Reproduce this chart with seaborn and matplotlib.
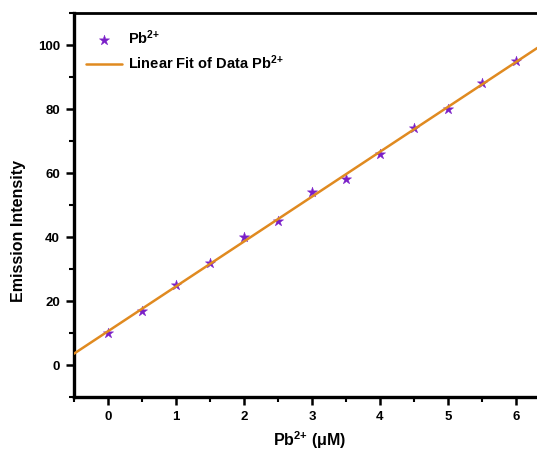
import numpy as np
import pandas as pd
import matplotlib
matplotlib.use("Agg")
import matplotlib.pyplot as plt
from matplotlib.ticker import MultipleLocator
import seaborn as sns

# Pb2+ concentration (uM) and measured emission intensity
concentration = [0, 0.5, 1, 1.5, 2, 2.5, 3, 3.5, 4, 4.5, 5, 5.5, 6]
intensity = [10, 17, 25, 32, 40, 45, 54, 58, 66, 74, 80, 88, 95]

x_ticks = [0, 1, 2, 3, 4, 5, 6]
y_ticks = [0, 20, 40, 60, 80, 100]

sns.set_theme(style="ticks")
plt.rcParams["font.family"] = ["Liberation Sans", "DejaVu Sans"]
plt.rcParams["mathtext.default"] = "regular"
plt.rcParams["text.color"] = "black"
plt.rcParams["axes.labelcolor"] = "black"

df = pd.DataFrame({"conc": concentration, "intensity": intensity})

# least-squares linear fit over the whole visible range
slope, intercept = np.polyfit(df["conc"], df["intensity"], 1)
xlim = (-0.5, 6.5)
fit = pd.DataFrame({"conc": list(xlim)})
fit["intensity"] = slope * fit["conc"] + intercept

fig = plt.figure(figsize=(5.37, 4.57), dpi=100)
ax = fig.add_axes([74 / 537, 60 / 457, 476 / 537, 384 / 457])

star_color = "#7A1FC8"
line_color = "#E08A20"

sns.scatterplot(data=df, x="conc", y="intensity", marker="*", s=60,
                color=star_color, edgecolor=star_color, linewidth=0.3,
                label="Pb$^{2{+}}$", ax=ax, zorder=2)
sns.lineplot(data=fit, x="conc", y="intensity", color=line_color, lw=1.8,
             label="Linear Fit of Data Pb$^{2{+}}$", ax=ax, zorder=3)

ax.set_xlim(*xlim)
ax.set_ylim(-10, 110)
ax.set_xticks(x_ticks)
ax.set_yticks(y_ticks)
ax.xaxis.set_minor_locator(MultipleLocator(0.5))
ax.yaxis.set_minor_locator(MultipleLocator(10))

for side in ["left", "bottom"]:
    ax.spines[side].set_linewidth(2.4)
ax.spines["top"].set_linewidth(2.0)
ax.spines["right"].set_linewidth(2.0)
for s in ax.spines.values():
    s.set_color("black")

ax.tick_params(which="major", direction="out", length=6, width=1.8,
               labelsize=9.5, colors="black", pad=4)
ax.tick_params(which="minor", direction="out", length=3.5, width=1.5,
               colors="black")
for lab in ax.get_xticklabels() + ax.get_yticklabels():
    lab.set_fontweight("bold")

ax.set_xlabel("Pb$^{2{+}}$ (μM)", fontsize=11.5, fontweight="bold", color="black")
ax.set_ylabel("Emission Intensity", fontsize=11.5, fontweight="bold", color="black")
ax.xaxis.set_label_coords(0.496, -0.085)
ax.yaxis.set_label_coords(-0.1, 0.432)

leg = ax.legend(loc="upper left", frameon=False, fontsize=10.5,
                handlelength=2.5, handletextpad=0.4, labelspacing=0.45,
                borderaxespad=0.4, bbox_to_anchor=(0.0, 0.99))
for t in leg.get_texts():
    t.set_fontweight("bold")
    t.set_color("black")

fig.savefig("out.png", dpi=100)
